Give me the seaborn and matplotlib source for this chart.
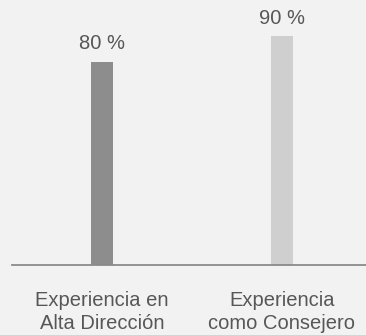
import matplotlib
matplotlib.use("Agg")
import matplotlib.pyplot as plt
import seaborn as sns
import pandas as pd

categories = ["Experiencia en\nAlta Dirección", "Experiencia\ncomo Consejero"]
values = [80, 90]
labels = ["80 %", "90 %"]
colors = ["#8e8d8e", "#d0cfd0"]

sns.set_style("white")
plt.rcParams['font.family'] = ['Liberation Sans', 'DejaVu Sans']

bg = "#f2f2f2"
fig = plt.figure(figsize=(3.66, 3.35), dpi=100, facecolor=bg)
ax = fig.add_axes([12/366, (335-265)/335, (372-12)/366, 254/335])
ax.set_facecolor(bg)

df = pd.DataFrame({"cat": categories, "val": values})
sns.barplot(data=df, x="cat", y="val", hue="cat", palette=colors, width=0.122,
            ax=ax, legend=False, saturation=1, linewidth=0, edgecolor="none")

ax.set_xlim(-0.5, 1.5)
ax.set_ylim(0, 100)
for i, (v, lab) in enumerate(zip(values, labels)):
    ax.text(i, v + 3.5, lab, ha="center", va="bottom", fontsize=14.5, color="#575757")

for s in ["top", "right", "left"]:
    ax.spines[s].set_visible(False)
ax.spines["bottom"].set_color("#8a8a8a")
ax.spines["bottom"].set_linewidth(1.3)
ax.set_yticks([])
ax.set_xlabel("")
ax.set_ylabel("")
ax.tick_params(axis="x", length=0, pad=19, labelsize=14.5, labelcolor="#575757")
for t in ax.get_xticklabels():
    t.set_linespacing(1.25)

fig.savefig("out.png", dpi=100, facecolor=bg)
